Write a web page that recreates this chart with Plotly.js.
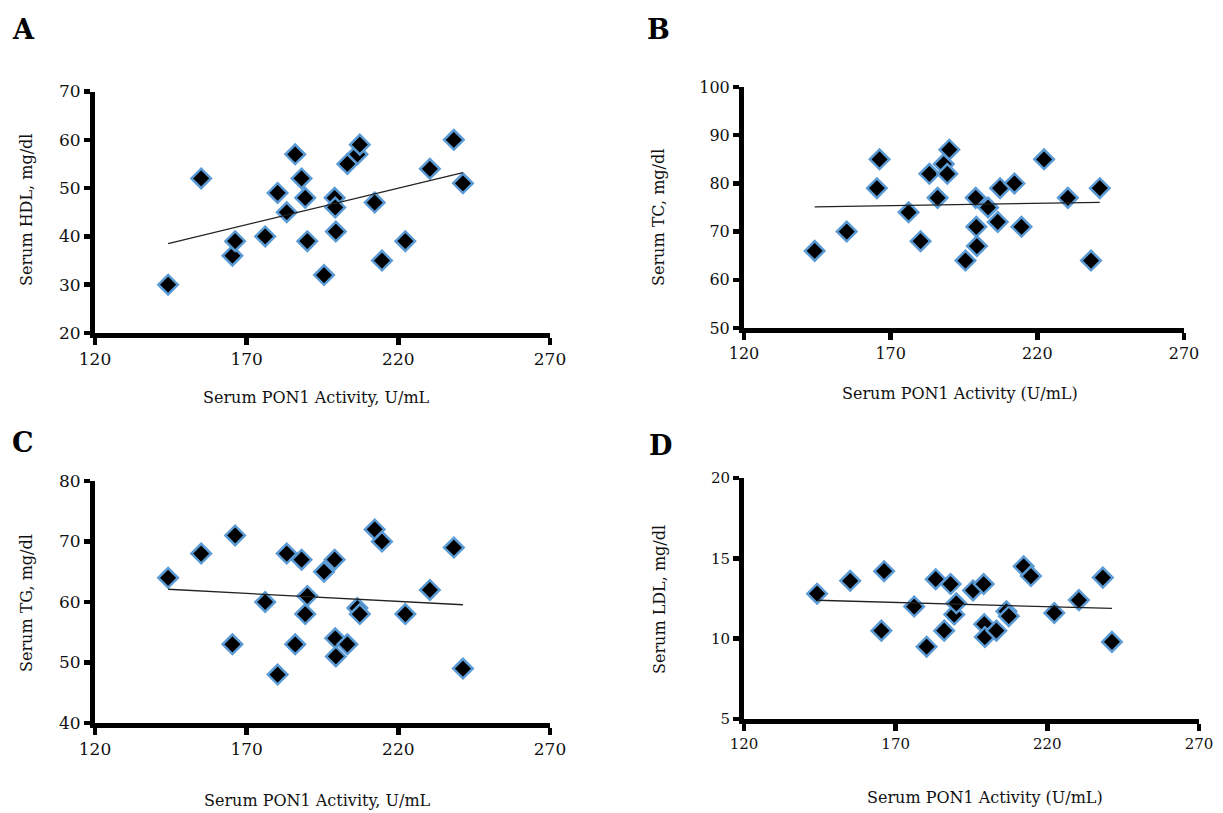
<!DOCTYPE html>
<html>
<head>
<meta charset="utf-8">
<script src="https://cdn.plot.ly/plotly-3.0.1.min.js"></script>
<style>html,body{margin:0;padding:0;background:#fff;}#chart{width:1223px;height:813px;}</style>
</head>
<body>
<div id="chart"></div>
<script>
// PON1 activity (U/mL) for each subject
const pon1 = [144.1,155,165.3,166.2,176.1,180.2,183.2,186,188.1,189.3,190,195.5,199,199.2,199.4,203.2,206.5,207.3,212.2,214.6,222.3,230.4,238.3,241.3];
// Serum lipids (mg/dl)
const hdl = [30,52,36,39,40,49,45,57,52,48,39,32,48,46,41,55,57,59,47,35,39,54,60,51];
const tc  = [66,70,79,85,74,68,82,77,84,82,87,64,77,71,67,75,72,79,80,71,85,77,64,79];
const tg  = [64,68,53,71,60,48,68,53,67,58,61,65,67,54,51,53,59,58,72,70,58,62,69,49];
const ldl = [12.8,13.6,10.5,14.2,12.0,9.5,13.7,10.5,13.4,11.5,12.2,13.0,13.4,10.9,10.1,10.5,11.7,11.4,14.5,13.9,11.6,12.4,13.8,9.8];

const panelLetters = ['A','B','C','D'];
const yTitles = ['Serum HDL, mg/dl','Serum TC, mg/dl','Serum TG, mg/dl','Serum LDL, mg/dl'];
const xTitles = ['Serum PON1 Activity, U/mL','Serum PON1 Activity (U/mL)','Serum PON1 Activity, U/mL','Serum PON1 Activity (U/mL)'];
const xTicks = [120,170,220,270];
const yTicksA = [20,30,40,50,60,70];
const yTicksB = [50,60,70,80,90,100];
const yTicksC = [40,50,60,70,80];
const yTicksD = [5,10,15,20];

const W = 1223, H = 813;
const FONT = 'DejaVu Serif, Liberation Serif, serif';

function ols(x, y) {
  const n = x.length;
  const mx = x.reduce((a,b)=>a+b,0)/n, my = y.reduce((a,b)=>a+b,0)/n;
  let sxy = 0, sxx = 0;
  for (let i=0;i<n;i++){ sxy += (x[i]-mx)*(y[i]-my); sxx += (x[i]-mx)*(x[i]-mx); }
  const b = sxy/sxx, a = my - b*mx;
  const x0 = Math.min(...x), x1 = Math.max(...x);
  return {x:[x0,x1], y:[a+b*x0, a+b*x1]};
}

// panel geometry in pixels: [left, right, bottom, top]
const geo = [
  [95, 550, 333, 91.5],
  [744, 1184, 328, 87],
  [95, 550, 723, 481],
  [744, 1199, 719, 478]
];
const yRanges = [[20,70],[50,100],[40,80],[5,20]];
const yTickSets = [yTicksA, yTicksB, yTicksC, yTicksD];
const tickFont = [17, 16, 17, 15];
const series = [hdl, tc, tg, ldl];

const data = [];
const layout = {
  width: W, height: H,
  margin: {l:0, r:0, t:0, b:0},
  paper_bgcolor: '#fff', plot_bgcolor: '#fff',
  showlegend: false,
  annotations: []
};

series.forEach((ys, i) => {
  const sfx = i === 0 ? '' : String(i+1);
  const xa = 'x' + sfx, ya = 'y' + sfx;
  data.push({
    type: 'scatter', mode: 'markers', x: pon1, y: ys, xaxis: xa, yaxis: ya,
    marker: {symbol: 'diamond', size: 15, color: '#000', line: {color: '#5b9bd5', width: 2.5}},
    hoverinfo: 'x+y', cliponaxis: false
  });
  const t = ols(pon1, ys);
  data.push({
    type: 'scatter', mode: 'lines', x: t.x, y: t.y, xaxis: xa, yaxis: ya,
    line: {color: '#222', width: 1.3}, hoverinfo: 'skip'
  });
  const g = geo[i];
  const common = {
    showline: true, linecolor: '#000', linewidth: 5, mirror: false,
    ticks: 'outside', ticklen: 7, tickwidth: 4.5, tickcolor: '#000',
    showgrid: false, zeroline: false,
    tickfont: {family: FONT, size: tickFont[i], color: '#111'}
  };
  layout['xaxis' + sfx] = Object.assign({}, common, {
    domain: [g[0]/W, g[1]/W], range: [120, 270], tickmode: 'array', tickvals: xTicks,
    anchor: ya, fixedrange: true
  });
  layout['yaxis' + sfx] = Object.assign({}, common, {
    domain: [1 - g[2]/H, 1 - g[3]/H], range: yRanges[i], tickmode: 'array', tickvals: yTickSets[i],
    anchor: xa, fixedrange: true, ticklen: 6
  });
});

// panel letters and axis titles
const letterPos = [[23,30],[658,30],[23,443],[660,445]];
const xTitlePos = [[316,397],[960,393],[318,800],[985,797]];
const yTitlePos = [[26,210],[659,218],[26,603],[659,600]];
for (let i=0;i<4;i++){
  layout.annotations.push({
    xref:'paper', yref:'paper', x: letterPos[i][0]/W, y: 1 - letterPos[i][1]/H,
    xanchor:'center', yanchor:'middle', showarrow:false, text: '<b>'+panelLetters[i]+'</b>',
    font:{family: FONT, size: 27, color:'#000'}
  });
  layout.annotations.push({
    xref:'paper', yref:'paper', x: xTitlePos[i][0]/W, y: 1 - xTitlePos[i][1]/H,
    xanchor:'center', yanchor:'middle', showarrow:false, text: xTitles[i],
    font:{family: FONT, size: 16, color:'#111'}
  });
  layout.annotations.push({
    xref:'paper', yref:'paper', x: yTitlePos[i][0]/W, y: 1 - yTitlePos[i][1]/H,
    xanchor:'center', yanchor:'middle', showarrow:false, text: yTitles[i], textangle: -90,
    font:{family: FONT, size: 16, color:'#111'}
  });
}

Plotly.newPlot('chart', data, layout, {staticPlot: true, displayModeBar: false});
</script>
</body>
</html>
